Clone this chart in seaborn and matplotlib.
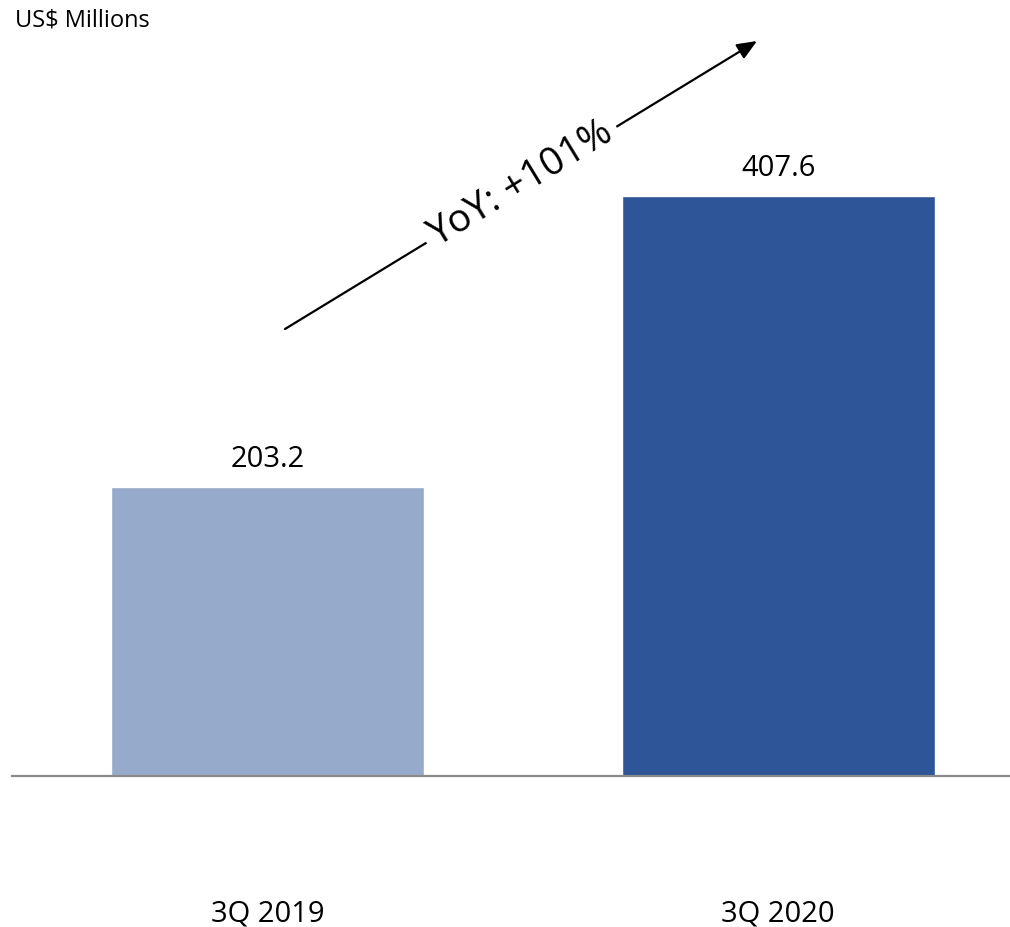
import matplotlib
matplotlib.use("Agg")
import matplotlib.pyplot as plt
import seaborn as sns
import pandas as pd
import math

categories = ["3Q 2019", "3Q 2020"]
values = [203.2, 407.6]
value_labels = ["203.2", "407.6"]
bar_colors = ["#96AACB", "#2D5598"]
unit_label = "US$ Millions"
growth_label = "YoY: +101%"

sns.set_theme(style="white")
plt.rcParams["font.family"] = ["Open Sans", "DejaVu Sans"]

W, H = 1010, 927
fig = plt.figure(figsize=(W / 100, H / 100), dpi=100)
base_px = 776
ax = fig.add_axes([12 / W, (H - base_px) / H, 1 - 12 / W, base_px / H])

df = pd.DataFrame({"cat": categories, "val": values})
sns.barplot(data=df, x="cat", y="val", hue="cat", palette=bar_colors,
            width=0.613, legend=False, ax=ax, saturation=1)

ax.set_xlim(-0.5, 1.454)
ax.set_ylim(0, base_px / 1.4235)
for s in ["top", "right", "left"]:
    ax.spines[s].set_visible(False)
ax.spines["bottom"].set_color("#8a8a8a")
ax.spines["bottom"].set_linewidth(1.6)
ax.set_yticks([])
ax.set_xlabel("")
ax.set_ylabel("")
ax.tick_params(axis="x", length=0, pad=89, labelsize=21, labelcolor="black")

for cont, lab in zip(ax.containers, value_labels):
    ax.bar_label(cont, labels=[lab], padding=9, fontsize=21, color="black")

fig.text(15 / W, 1 - 21 / H, unit_label, fontsize=17, color="black",
         ha="left", va="center")

# growth arrow
x0, y0 = 285, H - 329
x1, y1 = 757, H - 41
fig.add_artist(matplotlib.patches.FancyArrowPatch(
    (x0 / W, y0 / H), (x1 / W, y1 / H), transform=fig.transFigure,
    arrowstyle="-|>,head_length=1.2,head_width=0.5", mutation_scale=10,
    color="black", lw=1.6, shrinkA=0, shrinkB=0))
ang = math.degrees(math.atan2((y1 - y0), (x1 - x0)))
fig.text(521 / W, (H - 184) / H, growth_label, fontsize=28, rotation=ang,
         rotation_mode="anchor", ha="center", va="center", color="black",
         bbox=dict(facecolor="white", edgecolor="none", pad=5))

fig.savefig("out.png", dpi=100)
